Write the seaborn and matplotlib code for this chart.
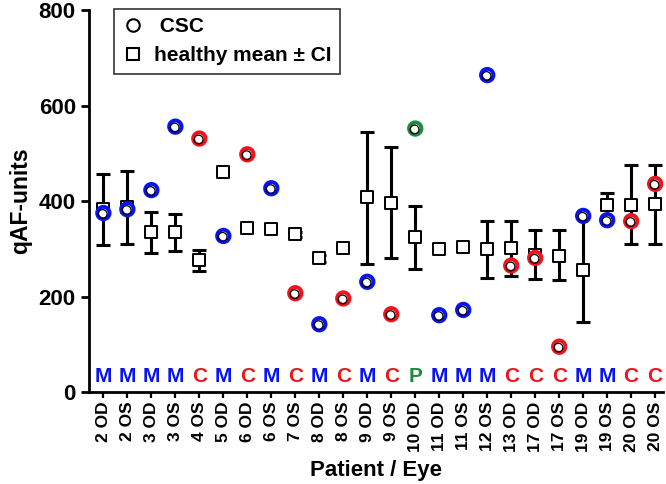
import numpy as np
import pandas as pd
import matplotlib
matplotlib.use("Agg")
import matplotlib.pyplot as plt
from matplotlib.lines import Line2D
import seaborn as sns

# Patient / eye categories with the CSC subtype letter shown above the axis
eyes = ["2 OD", "2 OS", "3 OD", "3 OS", "4 OS", "5 OD", "6 OD", "6 OS",
        "7 OS", "8 OD", "8 OS", "9 OD", "9 OS", "10 OD", "11 OD", "11 OS",
        "12 OS", "13 OD", "17 OD", "17 OS", "19 OD", "19 OS", "20 OD", "20 OS"]
subtype = ["M", "M", "M", "M", "C", "M", "C", "M", "C", "M", "C", "M",
           "C", "P", "M", "M", "M", "C", "C", "C", "M", "M", "C", "C"]

# CSC patient qAF values
csc_qaf = [375, 383, 423, 556, 531, 327, 498, 427, 207, 142, 196, 231,
           163, 552, 161, 172, 664, 265, 281, 95, 369, 360, 358, 436]

# age-matched healthy mean and 95% CI bounds (lo == hi: no CI drawn)
healthy_mean = [383, 387, 336, 336, 276, 461, 343, 341, 332, 280, 301, 408,
                396, 324, 299, 304, 299, 301, 287, 285, 256, 392, 392, 393]
ci_low = [309, 311, 292, 295, 254, 461, 343, 341, 324, 273, 301, 268,
          281, 257, 299, 304, 238, 244, 236, 235, 146, 367, 310, 310]
ci_high = [457, 463, 378, 374, 297, 461, 343, 341, 336, 287, 301, 545,
           514, 390, 299, 304, 359, 358, 339, 339, 366, 417, 475, 475]

subtype_colors = {"M": "#0a14f0", "C": "#f0141e", "P": "#1e8c3c"}

sns.set_style("ticks")
plt.rcParams["font.family"] = ["Liberation Sans", "DejaVu Sans"]
plt.rcParams["font.weight"] = "bold"
for key in ["text.color", "axes.labelcolor", "xtick.color", "ytick.color",
            "axes.edgecolor"]:
    plt.rcParams[key] = "black"

df = pd.DataFrame({
    "pos": np.arange(len(eyes)),
    "eye": eyes,
    "type": subtype,
    "csc": csc_qaf,
    "mean": healthy_mean,
    "lo": ci_low,
    "hi": ci_high,
})

fig = plt.figure(figsize=(6.66, 4.84), dpi=100)
ax = fig.add_axes([0.1336, 0.19, 0.862, 0.789])

# healthy mean +/- CI
ci = df[df["hi"] > df["lo"]]
ax.errorbar(ci["pos"], ci["mean"],
            yerr=[ci["mean"] - ci["lo"], ci["hi"] - ci["mean"]],
            fmt="none", ecolor="black", elinewidth=2.2, capsize=5,
            capthick=2.2, zorder=2)
sns.scatterplot(data=df, x="pos", y="mean", marker="s", s=70,
                facecolor="white", edgecolor="black", linewidth=1.4,
                ax=ax, zorder=3, legend=False)

# CSC eyes, coloured by subtype
sns.scatterplot(data=df, x="pos", y="csc", hue="type", palette=subtype_colors,
                marker="o", s=80, linewidth=2.8, ax=ax, zorder=4, legend=False)
pts = ax.collections[-1]
pts.set_facecolor("white")
pts.set_edgecolors([subtype_colors[t] for t in df["type"]])
ax.scatter(df["pos"] - 0.03, df["csc"] - 2, s=40, facecolor="none",
           edgecolor="black", linewidth=0.9, zorder=5)

# subtype letters
for p, t in zip(df["pos"], df["type"]):
    ax.text(p, 33, t, color=subtype_colors[t], ha="center", va="center",
            fontsize=15, fontweight="bold")

ax.set_xlim(-0.6, len(eyes) - 0.67)
ax.set_ylim(0, 800)
ax.set_yticks([0, 200, 400, 600, 800])
ax.set_xticks(df["pos"])
ax.set_xticklabels(eyes, rotation=90, fontsize=12.5, fontweight="bold")
ax.tick_params(axis="y", labelsize=16, width=2, length=6)
ax.tick_params(axis="x", width=1.6, length=4, pad=3)
for lab in ax.get_yticklabels():
    lab.set_fontweight("bold")
ax.set_xlabel("Patient / Eye", fontsize=16, fontweight="bold", labelpad=6)
ax.set_ylabel("qAF-units", fontsize=16.5, fontweight="bold", labelpad=5)
for side in ["left", "bottom"]:
    ax.spines[side].set_linewidth(2)
sns.despine(ax=ax)

handles = [
    Line2D([], [], marker="o", ls="none", mfc="white", mec="black",
           ms=9, mew=1.5, label=" CSC"),
    Line2D([], [], marker="s", ls="none", mfc="white", mec="black",
           ms=9, mew=1.5, label="healthy mean \u00b1 CI"),
]
leg = ax.legend(handles=handles, loc="upper left",
                bbox_to_anchor=(0.044, 1.004), borderaxespad=0,
                frameon=True, fancybox=False,
                prop={"weight": "bold", "size": 15}, handletextpad=0.5,
                borderpad=0.4, labelspacing=0.5, handlelength=1.0)
leg.get_frame().set_edgecolor("black")
leg.get_frame().set_linewidth(1.2)

fig.savefig("out.png", dpi=100)
